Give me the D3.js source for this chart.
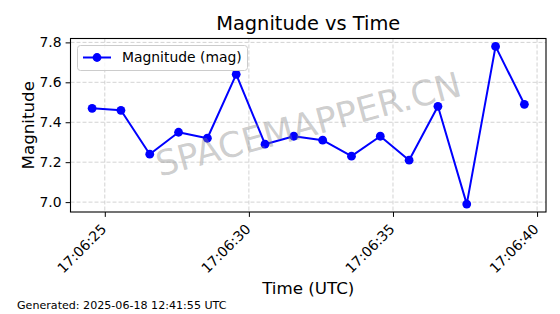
<!DOCTYPE html>
<html>
<head>
<meta charset="utf-8">
<script src="https://cdn.jsdelivr.net/npm/d3@7/dist/d3.min.js"></script>
<style>
  html, body { margin: 0; padding: 0; background: #fff; }
  svg { display: block; font-family: "DejaVu Sans", sans-serif; }
</style>
</head>
<body>
<div id="chart"></div>
<script>
// ---- data ----
const times = ["17:06:24.56","17:06:25.56","17:06:26.56","17:06:27.56","17:06:28.56","17:06:29.56","17:06:30.56","17:06:31.56",
               "17:06:32.56","17:06:33.56","17:06:34.56","17:06:35.56","17:06:36.56","17:06:37.56","17:06:38.56","17:06:39.56"];
const magnitudes = [7.47, 7.46, 7.24, 7.35, 7.32, 7.64, 7.29, 7.33, 7.31, 7.23, 7.33, 7.21, 7.48, 6.99, 7.78, 7.49];
const yTicks = [7.0, 7.2, 7.4, 7.6, 7.8];
const titleText = "Magnitude vs Time";
const xLabel = "Time (UTC)";
const yLabel = "Magnitude";
const seriesName = "Magnitude (mag)";
const footerText = "Generated: 2025-06-18 12:41:55 UTC";
const watermark = "SPACEMAPPER.CN";
const dateBase = "2025-06-18T";

// ---- setup ----
const W = 560, H = 314;
const pL = 70.5, pR = 546, pT = 38.5, pB = 212;
const parse = t => new Date(dateBase + t + "Z");
const data = times.map((t, i) => ({ t: parse(t), v: magnitudes[i] }));

const tExt = d3.extent(data, d => +d.t);
const tPad = (tExt[1] - tExt[0]) * 0.05;
const x = d3.scaleUtc().domain([new Date(tExt[0] - tPad), new Date(tExt[1] + tPad)]).range([pL, pR]);
const vExt = d3.extent(magnitudes);
const vPad = (vExt[1] - vExt[0]) * 0.05;
const y = d3.scaleLinear().domain([vExt[0] - vPad, vExt[1] + vPad]).range([pB, pT]);

const svg = d3.select("#chart").append("svg").attr("width", W).attr("height", H);
svg.append("rect").attr("width", W).attr("height", H).attr("fill", "#fff");

const xTickVals = x.ticks(d3.utcSecond.every(5));
const fmt = d3.utcFormat("%H:%M:%S");

// grid
const grid = svg.append("g").attr("stroke", "#b0b0b0").attr("stroke-opacity", 0.7)
  .attr("stroke-width", 0.8).attr("stroke-dasharray", "4,2");
grid.selectAll(".gx").data(xTickVals).join("line")
  .attr("x1", d => x(d)).attr("x2", d => x(d)).attr("y1", pT).attr("y2", pB);
grid.selectAll(".gy").data(yTicks).join("line")
  .attr("y1", d => y(d)).attr("y2", d => y(d)).attr("x1", pL).attr("x2", pR);

// line + markers
const line = d3.line().x(d => x(d.t)).y(d => y(d.v));
svg.append("path").datum(data).attr("d", line).attr("fill", "none")
  .attr("stroke", "#0000ff").attr("stroke-width", 2).attr("stroke-linejoin", "round");
svg.append("g").selectAll("circle").data(data).join("circle")
  .attr("cx", d => x(d.t)).attr("cy", d => y(d.v)).attr("r", 4.4).attr("fill", "#0000ff");

// axes
const xAxis = d3.axisBottom(x).tickValues(xTickVals).tickFormat(fmt).tickSize(4.9).tickPadding(3);
const gx = svg.append("g").attr("transform", `translate(0,${pB})`).call(xAxis);
gx.select(".domain").remove();
gx.selectAll(".tick line").attr("stroke", "#000").attr("stroke-width", 1);
gx.selectAll(".tick text")
  .attr("font-size", 13.9).attr("font-family", "DejaVu Sans").attr("fill", "#000")
  .attr("text-anchor", "end")
  .attr("dy", null).attr("y", null)
  .attr("transform", "translate(2,18) rotate(-45)");

const yAxis = d3.axisLeft(y).tickValues(yTicks).tickFormat(d3.format(".1f")).tickSize(4.9).tickPadding(4);
const gy = svg.append("g").attr("transform", `translate(${pL},0)`).call(yAxis);
gy.select(".domain").remove();
gy.selectAll(".tick line").attr("stroke", "#000").attr("stroke-width", 1);
gy.selectAll(".tick text").attr("font-size", 13.9).attr("font-family", "DejaVu Sans").attr("fill", "#000");

// frame
svg.append("rect").attr("x", pL).attr("y", pT).attr("width", pR - pL).attr("height", pB - pT)
  .attr("fill", "none").attr("stroke", "#000").attr("stroke-width", 1.1);

// legend
const lg = svg.append("g");
lg.append("rect").attr("x", 77.5).attr("y", 45.5).attr("width", 170).attr("height", 25).attr("rx", 3)
  .attr("fill", "#fff").attr("fill-opacity", 0.8).attr("stroke", "#cccccc").attr("stroke-width", 1);
lg.append("line").attr("x1", 83).attr("x2", 111).attr("y1", 57.5).attr("y2", 57.5)
  .attr("stroke", "#0000ff").attr("stroke-width", 2);
lg.append("circle").attr("cx", 97).attr("cy", 57.5).attr("r", 4.4).attr("fill", "#0000ff");
lg.append("text").attr("x", 122).attr("y", 57.5).attr("dy", "0.35em").attr("font-size", 13.9).text(seriesName);

// title & labels
svg.append("text").attr("x", (pL + pR) / 2).attr("y", 30).attr("text-anchor", "middle")
  .attr("font-size", 19.4).text(titleText);
svg.append("text").attr("x", (pL + pR) / 2).attr("y", 294).attr("text-anchor", "middle")
  .attr("font-size", 16.7).text(xLabel);
svg.append("text").attr("transform", `translate(34,${(pT + pB) / 2}) rotate(-90)`).attr("text-anchor", "middle")
  .attr("font-size", 16.7).text(yLabel);
svg.append("text").attr("x", 17).attr("y", 309).attr("font-size", 11.1).text(footerText);

// watermark
svg.append("text").attr("transform", `translate(${(pL + pR) / 2},${(pT + pB) / 2 - 1}) rotate(-15)`)
  .attr("text-anchor", "middle").attr("dy", "0.35em").attr("font-size", 35)
  .attr("fill", "#808080").attr("fill-opacity", 0.4).text(watermark);
</script>
</body>
</html>
